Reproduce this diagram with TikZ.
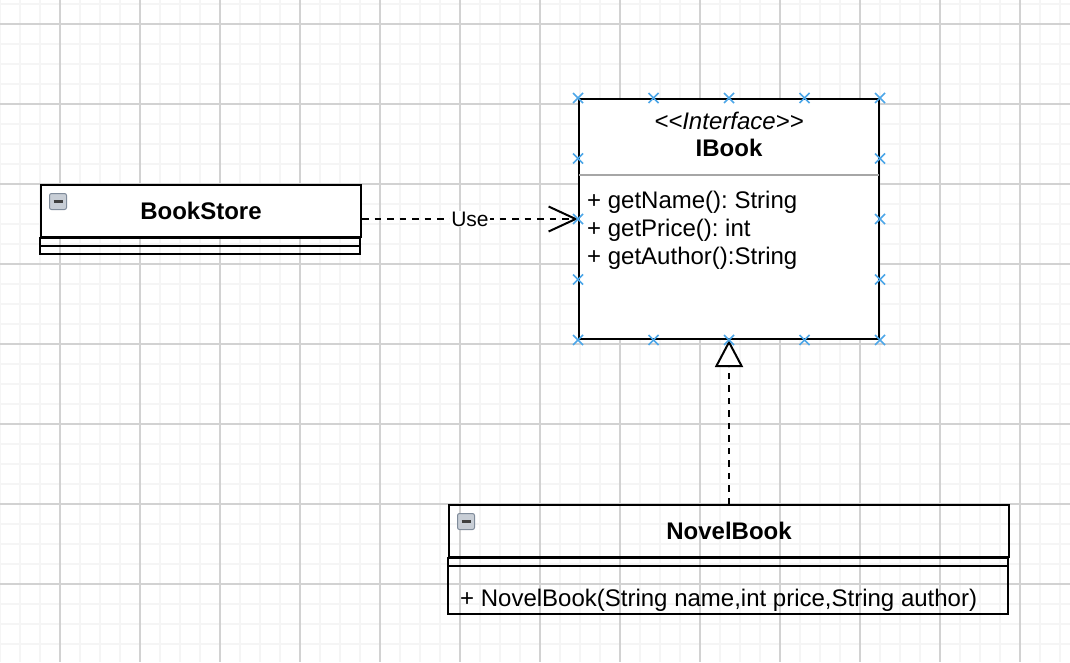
\documentclass[tikz,border=0pt]{standalone}
\usepackage{fontspec}
\setmainfont{Liberation Sans}[Ligatures=TeXOff]
\usetikzlibrary{%
	calc,%
	arrows.meta
}
\definecolor{handleblue}{RGB}{76,166,232}
\definecolor{minorgrid}{RGB}{245,245,245}
\definecolor{majorgrid}{RGB}{210,210,210}
\definecolor{iconfill}{RGB}{200,206,214}
\definecolor{iconedge}{RGB}{128,140,155}
\frenchspacing

\begin{document}
\begin{tikzpicture}[x=1pt,y=-1pt,>=latex,
		font=\fontsize{24}{28}\selectfont,
		uml/.style={draw=black,line width=2pt,inner sep=0pt},
		dep/.style={line width=2pt,dash pattern=on 6.5pt off 6pt},
		handle/.style={draw=handleblue,line width=1.6pt}]
				% background and grid
				\useasboundingbox (0,0) rectangle (1070,662);
				\fill[white] (0,0) rectangle (1070,662);
				\foreach \gx in {0,20,...,1060}
				\draw[minorgrid,line width=1.8pt] (\gx,0) -- (\gx,662);
				\foreach \gy in {4,24,...,644}
				\draw[minorgrid,line width=1.8pt] (0,\gy) -- (1070,\gy);
				\foreach \gx in {60,140,...,1020}
				\draw[majorgrid,line width=1.5pt] (\gx,0) -- (\gx,662);
				\foreach \gy in {24,104,...,584}
				\draw[majorgrid,line width=1.5pt] (0,\gy) -- (1070,\gy);
				% BookStore class
				\node[uml,fill=white,minimum width=320pt,minimum height=52pt] (bookstore) at (201,211) {\bfseries BookStore};
				\draw[uml] (bookstore.south west) rectangle ++(320,8);
				\draw[uml] ($(bookstore.south west)+(0,8)$) rectangle ++(320,8);
				% IBook interface
				\node[uml,fill=white,minimum width=300pt,minimum height=240pt] (ibook) at (729,219) {};
				\node[font=\fontsize{24}{28}\selectfont\itshape] (stereo) at (729,121) {<<Interface>>};
				\node[font=\fontsize{24}{28}\selectfont\bfseries] (ibookname) at (729,148) {IBook};
				\draw[gray!70,line width=1.5pt] ($(ibook.west |- 0,175)+(1,0)$) -- ($(ibook.east |- 0,175)+(-1,0)$);
				\foreach \txt [count=\i] in {{+ getName(): String},{+ getPrice(): int},{+ getAuthor():String}}
				\node[anchor=west,inner sep=0pt] (member\i) at (587,{174+28*\i}) {\txt};
				% NovelBook class
				\node[uml,minimum width=560pt,minimum height=52pt] (novelbook) at (729,531) {\bfseries NovelBook};
				\draw[uml] (novelbook.south west) rectangle ++(560,8);
				\draw[uml] ($(novelbook.south west)+(0,8)$) rectangle ++(560,48);
				\node[anchor=west,inner sep=0pt] (ctor) at (460,600) {+ NovelBook(String name,int price,String author)};
				% collapse icons
				\foreach \cls in {bookstore,novelbook}
				{
				\draw[iconedge,fill=iconfill,rounded corners=2pt,line width=1pt] ($(\cls.north west)+(9.5,9.5)$) rectangle ++(17,16);
				\draw[black!75,line width=2.5pt] ($(\cls.north west)+(13.5,17.5)$) -- ++(9,0);
				}
				% relations
				\draw[dep,-{Straight Barb[length=27pt,width=25pt]}] (bookstore.east |- ibook.west) -- (ibook.west)
					node[midway,fill=white,inner sep=1pt,font=\fontsize{21}{24}\selectfont] (uselabel) {Use};
				\draw[dep,-{Triangle[open,fill=white,length=27pt,width=28pt]}] (novelbook.north) -- (ibook.south);
				% selection handles
				\foreach \t in {0,0.25,0.5,0.75,1}
				{
				\coordinate (ht) at ($(ibook.north west)!\t!(ibook.north east)$);
				\coordinate (hb) at ($(ibook.south west)!\t!(ibook.south east)$);
				\foreach \h in {ht,hb}
				\draw[handle] ($(\h)+(-5,-5)$) -- ($(\h)+(5,5)$) ($(\h)+(-5,5)$) -- ($(\h)+(5,-5)$);
				}
				\foreach \t in {0.25,0.5,0.75}
				{
				\coordinate (hl) at ($(ibook.north west)!\t!(ibook.south west)$);
				\coordinate (hr) at ($(ibook.north east)!\t!(ibook.south east)$);
				\foreach \h in {hl,hr}
				\draw[handle] ($(\h)+(-5,-5)$) -- ($(\h)+(5,5)$) ($(\h)+(-5,5)$) -- ($(\h)+(5,-5)$);
				}
			\end{tikzpicture}
\end{document}
